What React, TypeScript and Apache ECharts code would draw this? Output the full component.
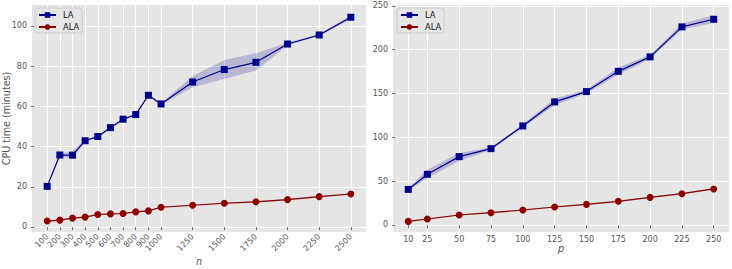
import { useEffect, useRef } from "react";
import * as echarts from "echarts";

// ---- Data ----
const nValues = [100, 200, 300, 400, 500, 600, 700, 800, 900, 1000, 1250, 1500, 1750, 2000, 2250, 2500];
const laN = [20.2, 35.8, 35.7, 42.9, 45.0, 49.4, 53.6, 55.9, 65.5, 61.2, 72.1, 78.3, 81.9, 91.0, 95.5, 104.3];
const laNLow = [19.8, 35.2, 34.0, 42.2, 44.5, 48.9, 53.1, 55.4, 65.0, 60.7, 69.5, 73.6, 77.8, 90.2, 95.0, 103.3];
const laNHigh = [20.6, 36.4, 37.6, 43.6, 45.5, 49.9, 54.1, 56.4, 66.0, 61.7, 75.1, 83.1, 86.4, 91.8, 96.0, 105.3];
const alaN = [2.95, 3.4, 4.4, 4.9, 6.2, 6.5, 6.7, 7.5, 8.0, 9.8, 10.8, 11.8, 12.5, 13.6, 15.1, 16.4];
const alaNLow = [2.6, 3.0, 4.0, 4.5, 5.8, 6.1, 6.3, 7.1, 7.6, 9.4, 10.4, 11.4, 12.1, 13.2, 14.7, 16.0];
const alaNHigh = [3.3, 3.8, 4.8, 5.3, 6.6, 6.9, 7.1, 7.9, 8.4, 10.2, 11.2, 12.2, 12.9, 14.0, 15.5, 16.8];

const pValues = [10, 25, 50, 75, 100, 125, 150, 175, 200, 225, 250];
const laP = [40.6, 57.8, 78.0, 87.1, 113.0, 140.4, 152.2, 175.3, 191.8, 226.0, 234.7];
const laPLow = [39.0, 53.6, 73.0, 85.6, 111.0, 136.5, 150.2, 171.3, 189.3, 223.0, 230.6];
const laPHigh = [42.2, 63.0, 82.2, 88.6, 115.0, 144.2, 154.2, 179.8, 194.3, 229.5, 239.3];
const alaP = [4.1, 6.8, 11.4, 14.0, 17.1, 20.5, 23.5, 27.0, 31.5, 35.7, 41.1];
const alaPLow = [3.3, 6.0, 10.6, 13.2, 16.3, 19.7, 22.7, 26.2, 30.7, 34.9, 40.3];
const alaPHigh = [4.9, 7.6, 12.2, 14.8, 17.9, 21.3, 24.3, 27.8, 32.3, 36.5, 41.9];

const leftYTicks = [0, 20, 40, 60, 80, 100];
const rightYTicks = [0, 50, 100, 150, 200, 250];

const LA_COLOR = "#00008B";
const ALA_COLOR = "#8B0000";
const FONT = "DejaVu Sans";

function bandSeries(xs: number[], lo: number[], hi: number[], fill: string, axisIndex: number) {
  return {
    type: "custom",
    xAxisIndex: axisIndex,
    yAxisIndex: axisIndex,
    z: 1,
    silent: true,
    data: xs.map((x, i) => [x, lo[i], hi[i]]),
    encode: { x: 0, y: [1, 2] },
    renderItem: (params: any, api: any) => {
      if (params.dataIndex !== 0) return null;
      const pts: number[][] = [];
      for (let i = 0; i < xs.length; i++) pts.push(api.coord([xs[i], hi[i]]));
      for (let i = xs.length - 1; i >= 0; i--) pts.push(api.coord([xs[i], lo[i]]));
      return { type: "polygon", shape: { points: pts }, style: { fill, stroke: "none" } };
    },
  };
}

function lineSeries(name: string, xs: number[], ys: number[], color: string, symbol: string, axisIndex: number) {
  return {
    name,
    type: "line",
    xAxisIndex: axisIndex,
    yAxisIndex: axisIndex,
    z: 3,
    data: xs.map((x, i) => [x, ys[i]]),
    symbol,
    symbolSize: 7,
    itemStyle: { color },
    lineStyle: { color, width: 1.2 },
  };
}

const labelStyle = { color: "#555", fontSize: 8, lineHeight: 8, fontFamily: FONT };
const fmt = (v: number) => String(v);

function xAxis(idx: number, min: number, max: number, ticks: number[], name: string, rotate: number, nameGap: number) {
  return {
    type: "value",
    gridIndex: idx,
    min,
    max,
    axisLine: { show: false },
    axisTick: { show: true, customValues: ticks, length: 3.5, lineStyle: { color: "#555", width: 0.8 } },
    axisLabel: { ...labelStyle, customValues: ticks, rotate, margin: 3.5, formatter: fmt, hideOverlap: false, showMinLabel: true, showMaxLabel: true },
    splitLine: { show: true, lineStyle: { color: "#fff", width: 1 } },
    name,
    nameLocation: "middle",
    nameGap,
    nameMoveOverlap: false,
    nameTextStyle: { color: "#555", fontSize: 9.6, lineHeight: 9.6, fontStyle: "italic", fontFamily: FONT },
  };
}

function yAxis(idx: number, min: number, max: number, ticks: number[], name?: string) {
  return {
    type: "value",
    gridIndex: idx,
    min,
    max,
    axisLine: { show: false },
    axisTick: { show: true, customValues: ticks, length: 3.5, lineStyle: { color: "#555", width: 0.8 } },
    axisLabel: { ...labelStyle, customValues: ticks, margin: 5, formatter: fmt, hideOverlap: false, showMinLabel: true, showMaxLabel: true },
    splitLine: { show: true, lineStyle: { color: "#fff", width: 1 } },
    name: name || "",
    nameLocation: "middle",
    nameGap: 20.5,
    nameMoveOverlap: false,
    nameTextStyle: { color: "#555", fontSize: 9.6, fontFamily: FONT },
  };
}

function legend(left: number) {
  return {
    left,
    top: 8,
    orient: "vertical",
    data: ["LA", "ALA"],
    itemWidth: 17,
    itemHeight: 7,
    itemGap: 4,
    padding: [3, 3, 2, 3],
    backgroundColor: "rgba(229,229,229,0.8)",
    borderColor: "#cccccc",
    borderWidth: 1,
    borderRadius: 3,
    textStyle: { color: "#111", fontSize: 8.3, fontFamily: FONT, padding: [0, 0, 0, 2] },
  };
}

export default function App() {
  const ref = useRef<HTMLDivElement>(null);
  useEffect(() => {
    document.body.style.margin = "0";
    if (!ref.current) return;
    const chart = echarts.init(ref.current, undefined, { renderer: "svg" });
    chart.setOption({
      animation: false,
      backgroundColor: "#ffffff",
      textStyle: { fontFamily: FONT },
      grid: [
        { left: 32, top: 5, width: 334, height: 227, show: true, backgroundColor: "#E5E5E5", borderWidth: 0, containLabel: false, outerBoundsMode: "none" },
        { left: 393, top: 5, width: 336, height: 227, show: true, backgroundColor: "#E5E5E5", borderWidth: 0, containLabel: false, outerBoundsMode: "none" },
      ],
      legend: [legend(35), legend(397)],
      xAxis: [
        xAxis(0, -20, 2620, nValues, "n", 45, 25),
        xAxis(1, -2, 262, pValues, "p", 0, 11.5),
      ],
      yAxis: [
        yAxis(0, -2.5, 110.4, leftYTicks, "CPU time (minutes)"),
        yAxis(1, -8, 251, rightYTicks),
      ],
      series: [
        bandSeries(nValues, laNLow, laNHigh, "rgba(0,0,139,0.2)", 0),
        bandSeries(nValues, alaNLow, alaNHigh, "rgba(139,0,0,0.2)", 0),
        lineSeries("LA", nValues, laN, LA_COLOR, "rect", 0),
        lineSeries("ALA", nValues, alaN, ALA_COLOR, "circle", 0),
        bandSeries(pValues, laPLow, laPHigh, "rgba(0,0,139,0.2)", 1),
        bandSeries(pValues, alaPLow, alaPHigh, "rgba(139,0,0,0.2)", 1),
        lineSeries("LA", pValues, laP, LA_COLOR, "rect", 1),
        lineSeries("ALA", pValues, alaP, ALA_COLOR, "circle", 1),
      ],
    });
    return () => chart.dispose();
  }, []);
  return <div ref={ref} style={{ width: 732, height: 269 }} />;
}
